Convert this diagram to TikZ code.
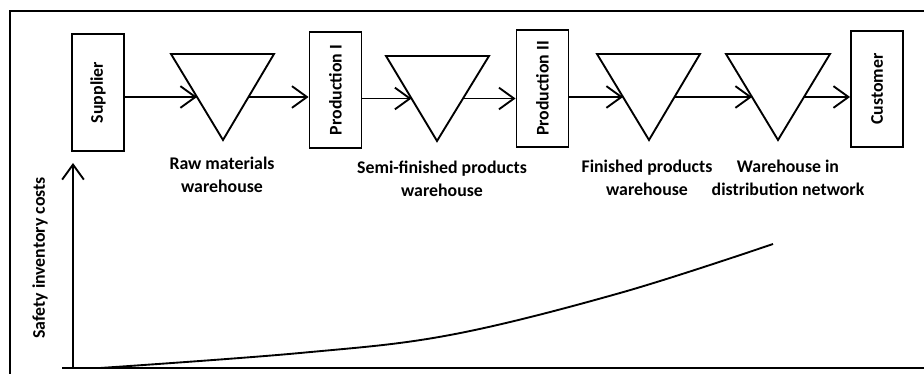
\documentclass[tikz,border=0pt]{standalone}
\usepackage{fontspec}
\setmainfont{Carlito}
\usetikzlibrary{arrows.meta,calc}

\begin{document}
\begin{tikzpicture}[x=0.03cm, y=-0.03cm, line width=1.6pt,
  stage/.style={draw, rotate=90, minimum width=3.5cm, minimum height=1.56cm, inner sep=0pt, font=\fontsize{15.2}{19}\selectfont\bfseries},
  caption/.style={align=center, font=\fontsize{15.2}{20}\selectfont\bfseries},
  flow/.style={-{Straight Barb[length=0.45cm, width=0.65cm]}}]

\useasboundingbox (0,0) rectangle (924,374);

\draw (10,374) -- (10,11) -- (924,11);

\node [stage] (Sup) at (98,92.5) {Supplier};
\node [stage] (PI) at (335.5,90) {Production I};
\node [stage] (PII) at (542.5,88.5) {Production II};
\node [stage] (Cust) at (877,89) {Customer};

\coordinate (A) at (171,54);
\coordinate (B) at (274,54);
\coordinate (C) at (223,140);
\coordinate (D) at (386,56);
\coordinate (E) at (489,56);
\coordinate (F) at (437,141);
\coordinate (G) at (597,54);
\coordinate (H) at (700,54);
\coordinate (I) at (649,140);
\coordinate (J) at (726,54);
\coordinate (K) at (830,54);
\coordinate (L) at (778,140);

\draw (A) -- (B) -- (C) -- cycle;
\draw (D) -- (E) -- (F) -- cycle;
\draw (G) -- (H) -- (I) -- cycle;
\draw (J) -- (K) -- (L) -- cycle;

\coordinate (M) at ($(A)!.5!(C)$);
\coordinate (N) at ($(B)!.5!(C)$);
\coordinate (O) at ($(D)!.5!(F)$);
\coordinate (P) at ($(E)!.5!(F)$);
\coordinate (Q) at ($(G)!.5!(I)$);
\coordinate (R) at ($(H)!.5!(I)$);
\coordinate (S) at ($(J)!.5!(L)$);
\coordinate (T) at ($(K)!.5!(L)$);

\draw [flow] (Sup.south |- M) -- (M);
\draw [flow] (N) -- (PI.north |- N);
\draw [flow] (PI.south |- O) -- (O);
\draw [flow] (P) -- (PII.north |- P);
\draw [flow] (PII.south |- Q) -- (Q);
\draw [flow] (R) -- (S);
\draw [flow] (T) -- (Cust.north |- T);

\node [caption] (RM) at (222,175) {Raw materials\\warehouse};
\node [caption] (SF) at (442,179) {Semi-finished products\\warehouse};
\node [caption] (FP) at (647,178) {Finished products\\warehouse};
\node [caption] (WD) at (788,178) {Warehouse in\\distribution network};

\coordinate (X0) at (62,368);
\coordinate (X1) at (924,368);
\coordinate (Y0) at (73,368);
\coordinate (Y1) at (73,163);

\draw [line width=2pt] (X0) -- (X1);
\draw [flow] (Y0) -- (Y1);
\node [caption, rotate=90] (YL) at (40,258) {Safety inventory costs};

\draw plot [smooth, tension=0.6] coordinates {(100,368) (300,353) (450,335) (620,293) (773,244)};

\end{tikzpicture}
\end{document}
